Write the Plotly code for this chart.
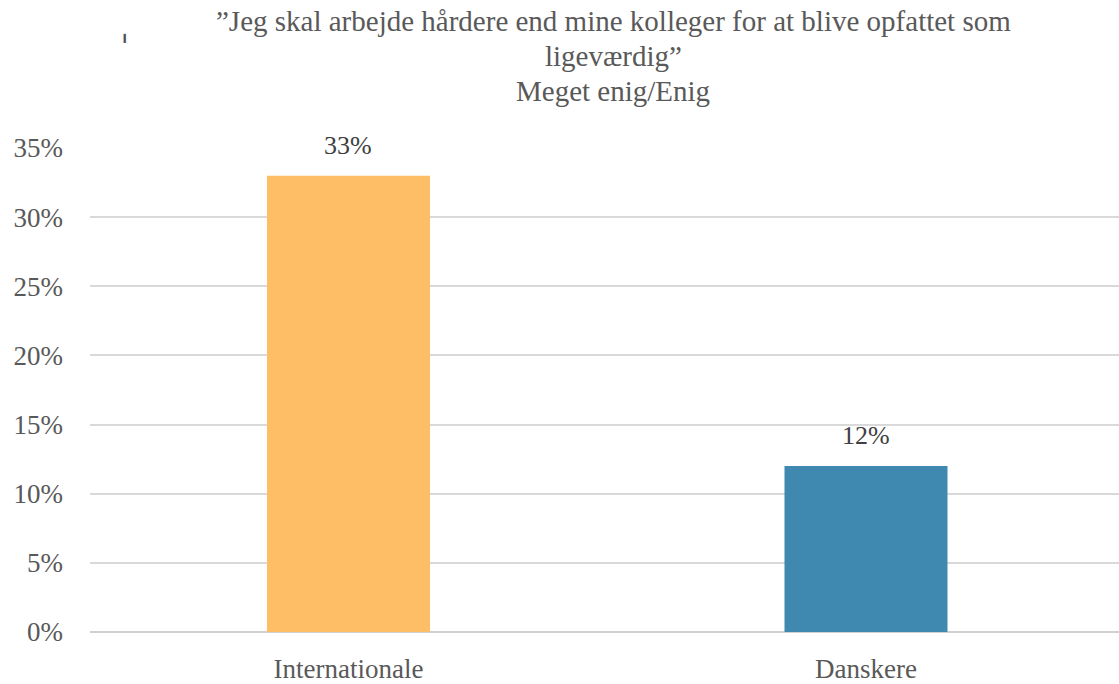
import plotly.graph_objects as go

categories = ["Internationale", "Danskere"]
values = [33, 12]
labels = ["33%", "12%"]
colors = ["#FDBE66", "#3F89B1"]
tick_vals = [0, 5, 10, 15, 20, 25, 30, 35]
tick_text = ["0%", "5%", "10%", "15%", "20%", "25%", "30%", "35%"]
title_lines = ["”Jeg skal arbejde hårdere end mine kolleger for at blive opfattet som",
               "ligeværdig”", "Meget enig/Enig"]

FONT = "Liberation Serif, Times New Roman, serif"
GREY = "#595959"
L, T, B = 90, 148, 52
PH = 684 - T - B

fig = go.Figure(go.Bar(
    x=[0, 1], y=values, marker_color=colors, marker_line_width=0,
    width=0.315,
))

ann = []
for i, ln in enumerate(title_lines):
    ypix = 21 + 35 * i
    ann.append(dict(text=ln, xref="paper", yref="paper",
                    x=(613 - L) / (1119 - L), y=(684 - B - ypix) / PH,
                    xanchor="center", yanchor="middle", showarrow=False,
                    font=dict(family=FONT, size=29, color=GREY)))
for i, (v, t) in enumerate(zip(values, labels)):
    ann.append(dict(text=t, x=i, y=v, xref="x", yref="y", yanchor="bottom",
                    yshift=14, showarrow=False,
                    font=dict(family=FONT, size=26, color="#404040")))
ann.append(dict(text="ˈ", xref="paper", yref="paper", x=(124 - L) / (1119 - L),
                y=(684 - B - 48) / PH, xanchor="center", yanchor="middle",
                showarrow=False, font=dict(family="DejaVu Sans", size=34, color="#505050")))

fig.update_layout(
    width=1119, height=684,
    margin=dict(l=L, r=0, t=T, b=B),
    paper_bgcolor="white", plot_bgcolor="white",
    showlegend=False,
    font=dict(family=FONT, color=GREY),
    xaxis=dict(range=[-0.4995, 1.4889], tickvals=[0, 1], ticktext=categories,
               showgrid=False, showline=False, ticks="", ticklabelstandoff=18,
               tickfont=dict(family=FONT, size=27, color=GREY)),
    yaxis=dict(range=[0, 35], tickvals=tick_vals, ticktext=tick_text,
               showgrid=True, gridcolor="#D9D9D9", gridwidth=1.5,
               zeroline=True, zerolinecolor="#D0D0D0", zerolinewidth=1.5,
               showline=False, ticks="", ticklabelstandoff=26,
               tickfont=dict(family=FONT, size=27, color=GREY)),
    annotations=ann,
)

fig.write_html("out.html")
